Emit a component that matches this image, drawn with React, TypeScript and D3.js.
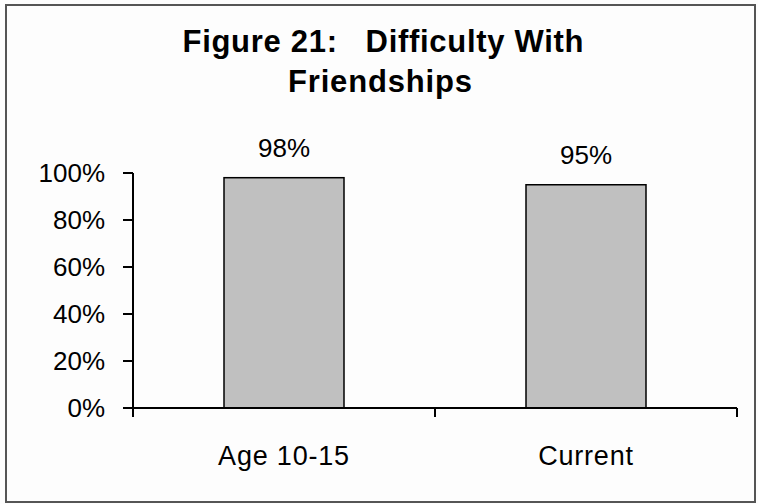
import React from "react";
import * as d3 from "d3";

const categories: string[] = ["Age 10-15", "Current"];
const values: number[] = [98, 95];
const yTicks: number[] = [0, 20, 40, 60, 80, 100];
const titleLines: string[] = ["Figure 21:   Difficulty With", "Friendships"];

const W = 758;
const H = 504;
const FONT = "'Liberation Sans', Arial, Helvetica, sans-serif";

export default function App() {
  const x = d3.scaleBand<string>().domain(categories).range([133, 737]).paddingInner(0).paddingOuter(0);
  const y = d3.scaleLinear().domain([0, 100]).range([408, 173]);
  const barW = 120;
  const bw = x.bandwidth();
  const boundaries = [133, ...categories.map((c) => (x(c) as number) + bw)];

  return (
    <svg
      width={W}
      height={H}
      style={{ position: "absolute", left: 0, top: 0, background: "#fdfdfd" }}
      fontFamily={FONT}
    >
      <rect x={0} y={0} width={W} height={H} fill="#fdfdfd" />
      <rect x={6} y={5} width={749} height={497} fill="none" stroke="#555" strokeWidth={2} />

      <text
        x={383}
        y={52}
        textAnchor="middle"
        fontSize={31}
        fontWeight="bold"
        fill="#000"
        style={{ whiteSpace: "pre" }}
        textLength={401}
        lengthAdjust="spacing"
      >
        {titleLines[0]}
      </text>
      <text x={380} y={92} textAnchor="middle" fontSize={31} fontWeight="bold" fill="#000" textLength={184} lengthAdjust="spacing">
        {titleLines[1]}
      </text>

      {categories.map((c, i) => {
        const cx = (x(c) as number) + bw / 2;
        const v = values[i];
        return (
          <g key={c}>
            <rect
              x={cx - barW / 2}
              y={y(v)}
              width={barW}
              height={y(0) - y(v)}
              fill="#c0c0c0"
              stroke="#000"
              strokeWidth={1.5}
            />
            <text x={cx} y={y(v) - 21} textAnchor="middle" fontSize={26} fill="#000">
              {v}%
            </text>
            <text x={cx} y={465} textAnchor="middle" fontSize={27} letterSpacing={0.8} fill="#000">
              {c}
            </text>
          </g>
        );
      })}

      {/* Y axis */}
      <line x1={133} x2={133} y1={y(100)} y2={417} stroke="#000" strokeWidth={2} />
      {yTicks.map((t) => (
        <g key={t}>
          <line x1={123} x2={133} y1={y(t)} y2={y(t)} stroke="#000" strokeWidth={2} />
          <text x={105} y={y(t) + 9} textAnchor="end" fontSize={26} fill="#000">
            {t}%
          </text>
        </g>
      ))}

      {/* X axis */}
      <line x1={123} x2={737} y1={y(0)} y2={y(0)} stroke="#000" strokeWidth={2} />
      {boundaries.map((b, i) => (
        <line key={i} x1={b} x2={b} y1={y(0)} y2={417} stroke="#000" strokeWidth={2} />
      ))}
    </svg>
  );
}
